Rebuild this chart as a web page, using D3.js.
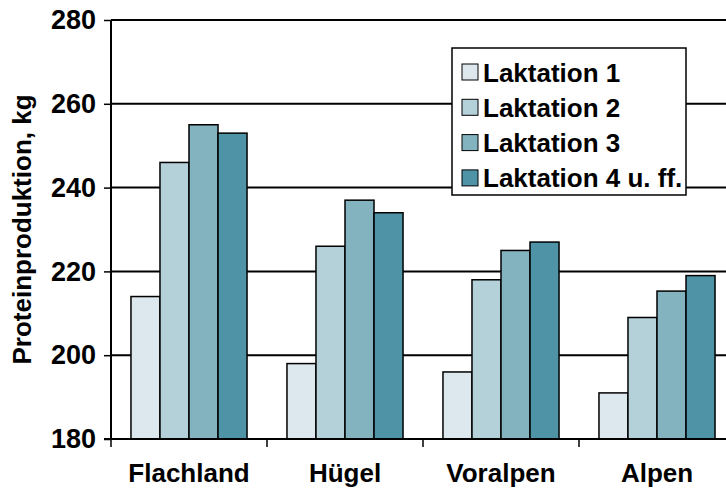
<!DOCTYPE html>
<html><head><meta charset="utf-8">
<script src="https://cdn.jsdelivr.net/npm/d3@7"></script>
<style>body{margin:0;background:#fff}svg{display:block}text{font-family:"Liberation Sans",Arial,sans-serif;font-weight:bold}</style>
</head><body><svg id="c" width="726" height="488"></svg>
<script>
const categories = ["Flachland", "Hügel", "Voralpen", "Alpen"];
const seriesNames = ["Laktation 1", "Laktation 2", "Laktation 3", "Laktation 4 u. ff."];
const laktation1 = [214, 198, 196, 191];
const laktation2 = [246, 226, 218, 209];
const laktation3 = [255, 237, 225, 215.3];
const laktation4 = [253, 234, 227, 219];
const yTicks = [180, 200, 220, 240, 260, 280];
const colors = ["#dce8ed", "#b4d0d8", "#84b3c0", "#4f93a6"];

const series = [laktation1, laktation2, laktation3, laktation4];
const svg = d3.select("#c");
const pLeft = 111, pRight = 735, pTop = 20, pBottom = 439;

const y = d3.scaleLinear().domain([180, 280]).range([pBottom, pTop]);
const x0 = d3.scaleBand().domain(categories).range([pLeft, pRight]).paddingInner(0.256).paddingOuter(0.128);
const x1 = d3.scaleBand().domain(d3.range(4)).range([0, x0.bandwidth()]);

// gridlines
svg.append("g").selectAll("line").data(yTicks).join("line")
  .attr("x1", pLeft).attr("x2", 726).attr("y1", d => y(d)).attr("y2", d => y(d))
  .attr("stroke", "#000").attr("stroke-width", 2);

// bars
categories.forEach((c, ci) => {
  series.forEach((s, si) => {
    svg.append("rect")
      .attr("x", x0(c) + x1(si)).attr("width", x1.bandwidth())
      .attr("y", y(s[ci])).attr("height", y(180) - y(s[ci]))
      .attr("fill", colors[si]).attr("stroke", "#000").attr("stroke-width", 1.5);
  });
});

// y axis
const yAxis = svg.append("g").attr("transform", `translate(${pLeft},0)`)
  .call(d3.axisLeft(y).tickValues(yTicks).tickSize(7).tickPadding(8).tickFormat(d3.format("d")));
yAxis.select(".domain").attr("stroke-width", 2).attr("d", `M0,${pTop}V${pBottom}`);
yAxis.selectAll("line").attr("stroke-width", 1.5);
yAxis.selectAll("text").attr("font-size", 27).attr("fill", "#000").attr("font-family", "Liberation Sans, Arial").attr("font-weight", "bold");

// x axis
const xAxis = svg.append("g").attr("transform", `translate(0,${pBottom})`);
xAxis.append("line").attr("x1", pLeft - 7).attr("x2", 726).attr("stroke", "#000").attr("stroke-width", 2);
xAxis.selectAll("line.t").data(categories).join("line").attr("class", "t")
  .attr("x1", d => x0(d) - x0.step() * 0.128).attr("x2", d => x0(d) - x0.step() * 0.128)
  .attr("y1", 0).attr("y2", 8).attr("stroke", "#000").attr("stroke-width", 1.5);
xAxis.selectAll("text").data(categories).join("text")
  .attr("x", d => x0(d) + x0.bandwidth() / 2).attr("y", 43)
  .attr("text-anchor", "middle").attr("font-size", 26).text(d => d);

// y title
svg.append("text").attr("transform", `translate(31,${(pTop + pBottom) / 2}) rotate(-90)`)
  .attr("text-anchor", "middle").attr("font-size", 26).text("Proteinproduktion, kg");

// legend
const lg = svg.append("g").attr("transform", "translate(452,48)");
lg.append("rect").attr("width", 234).attr("height", 147).attr("fill", "#fff").attr("stroke", "#000").attr("stroke-width", 1.5);
seriesNames.forEach((n, i) => {
  const yy = 24 + i * 35.3;
  lg.append("rect").attr("x", 10).attr("y", yy - 8).attr("width", 16).attr("height", 16)
    .attr("fill", colors[i]).attr("stroke", "#000").attr("stroke-width", 1);
  lg.append("text").attr("x", 31).attr("y", yy + 9.5).attr("font-size", 26).text(n);
});
</script></body></html>
